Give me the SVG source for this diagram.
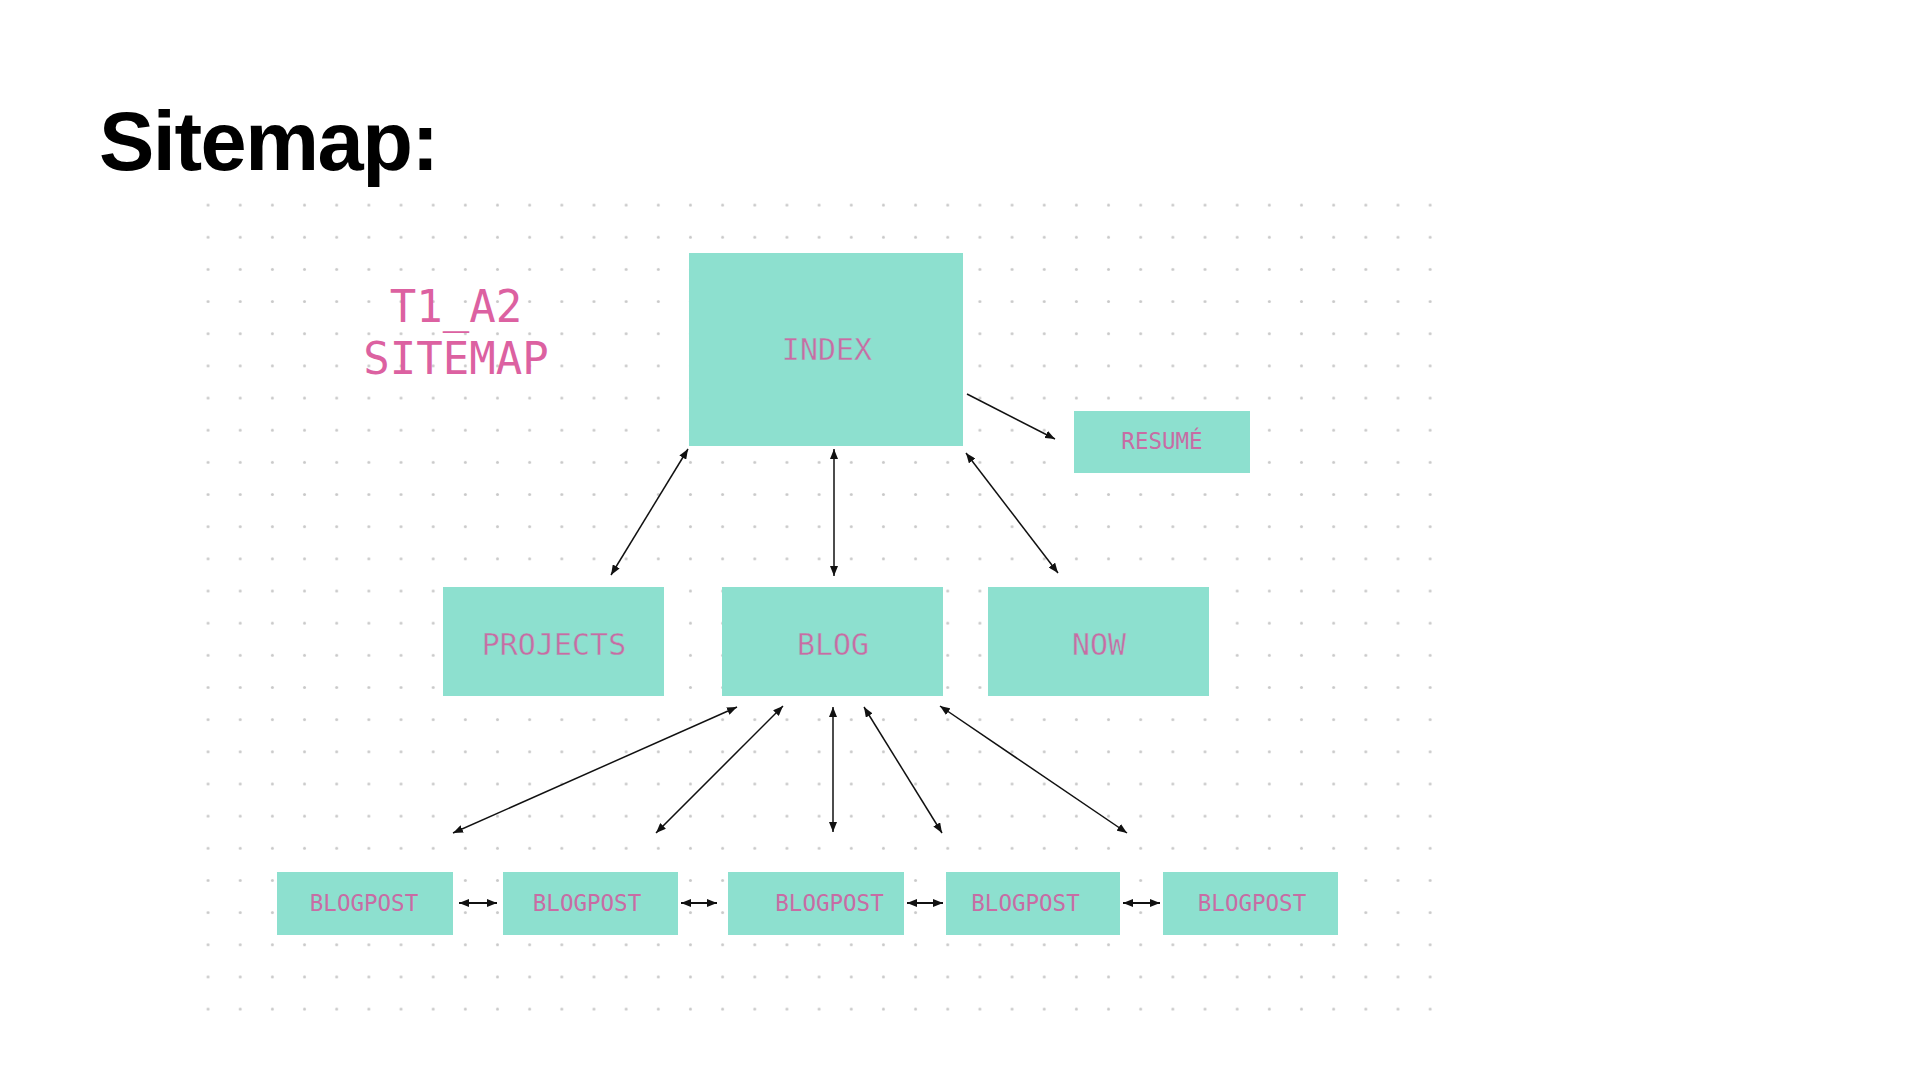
<svg xmlns="http://www.w3.org/2000/svg" width="1920" height="1080" viewBox="0 0 1920 1080">
  <defs>
    <pattern id="dots" x="192" y="189" width="32.16" height="32.16" patternUnits="userSpaceOnUse">
      <circle cx="16.08" cy="16.08" r="1.5" fill="#c9c9c9"/>
    </pattern>
    <marker id="ah" viewBox="0 0 10 8" refX="10" refY="4" markerWidth="10" markerHeight="8" markerUnits="userSpaceOnUse" orient="auto-start-reverse">
      <path d="M0,0 L10,4 L0,8 z" fill="#111"/>
    </marker>
    <marker id="ahb" viewBox="0 0 10 8" refX="10" refY="4" markerWidth="10" markerHeight="9" markerUnits="userSpaceOnUse" orient="auto-start-reverse">
      <path d="M0,0 L10,4 L0,8 z" fill="#111"/>
    </marker>
  </defs>
  <style>
    .box { fill: #8de0cf; }
    .lbl { font-family: "DejaVu Sans Mono", "Liberation Mono", monospace; fill: #c86ca4; text-anchor: middle; }
    .big { font-size: 30px; stroke: #8de0cf; stroke-width: 0.4; }
    .small { font-size: 22.5px; }
    .conn { stroke: #111; stroke-width: 1.5; fill: none; marker-start: url(#ah); marker-end: url(#ah); }
    .one { marker-start: none; }
    .h { stroke-width: 2.2; marker-start: url(#ahb); marker-end: url(#ahb); }
  </style>
  <rect width="1920" height="1080" fill="#ffffff"/>
  <rect x="192" y="189" width="1254.24" height="836.16" fill="url(#dots)"/>

  <text x="99" y="170" font-family="Liberation Sans, Arial, sans-serif" font-weight="bold" font-size="83" letter-spacing="-1.5" fill="#000">Sitemap:</text>

  <g id="title-label" font-family="DejaVu Sans Mono, Liberation Mono, monospace" font-size="44" fill="#dc61a1" text-anchor="middle">
    <text x="456" y="322">T1_A2</text>
    <text x="456" y="374">SITEMAP</text>
  </g>

  <g id="connectors">
    <line class="conn" x1="688" y1="449" x2="611" y2="575"/>
    <line class="conn" x1="834" y1="449" x2="834" y2="576"/>
    <line class="conn" x1="966" y1="453" x2="1058" y2="573"/>
    <line class="conn one" x1="967" y1="394" x2="1055" y2="439"/>
    <line class="conn" x1="737" y1="707" x2="453" y2="833"/>
    <line class="conn" x1="783" y1="706" x2="656" y2="833"/>
    <line class="conn" x1="833" y1="707" x2="833" y2="832"/>
    <line class="conn" x1="864" y1="707" x2="942" y2="833"/>
    <line class="conn" x1="940" y1="706" x2="1127" y2="833"/>
    <line class="conn h" x1="459" y1="903" x2="497" y2="903"/>
    <line class="conn h" x1="681" y1="903" x2="717" y2="903"/>
    <line class="conn h" x1="907" y1="903" x2="943" y2="903"/>
    <line class="conn h" x1="1123" y1="903" x2="1160" y2="903"/>
  </g>

  <g id="index">
    <rect class="box" x="689" y="253" width="274" height="193"/>
    <text class="lbl big" x="827" y="360">INDEX</text>
  </g>
  <g id="resume">
    <rect class="box" x="1074" y="411" width="176" height="62"/>
    <text class="lbl small" x="1162" y="449">RESUMÉ</text>
  </g>
  <g id="projects">
    <rect class="box" x="443" y="587" width="221" height="109"/>
    <text class="lbl big" x="554" y="655">PROJECTS</text>
  </g>
  <g id="blog">
    <rect class="box" x="722" y="587" width="221" height="109"/>
    <text class="lbl big" x="833" y="655">BLOG</text>
  </g>
  <g id="now">
    <rect class="box" x="988" y="587" width="221" height="109"/>
    <text class="lbl big" x="1099" y="655">NOW</text>
  </g>
  <g id="blogpost1">
    <rect class="box" x="277" y="872" width="176" height="63"/>
    <text class="lbl small" x="364" y="911">BLOGPOST</text>
  </g>
  <g id="blogpost2">
    <rect class="box" x="503" y="872" width="175" height="63"/>
    <text class="lbl small" x="587" y="911">BLOGPOST</text>
  </g>
  <g id="blogpost3">
    <rect class="box" x="728" y="872" width="176" height="63"/>
    <text class="lbl small" x="829.5" y="911">BLOGPOST</text>
  </g>
  <g id="blogpost4">
    <rect class="box" x="946" y="872" width="174" height="63"/>
    <text class="lbl small" x="1025.5" y="911">BLOGPOST</text>
  </g>
  <g id="blogpost5">
    <rect class="box" x="1163" y="872" width="175" height="63"/>
    <text class="lbl small" x="1252" y="911">BLOGPOST</text>
  </g>
</svg>
